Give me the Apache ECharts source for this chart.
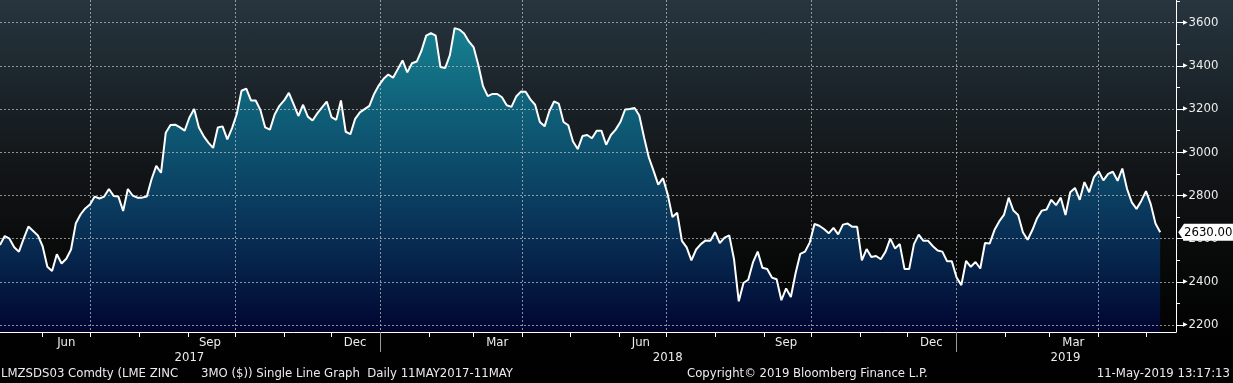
<!DOCTYPE html>
<html><head><meta charset="utf-8">
<script src="https://cdn.jsdelivr.net/npm/echarts@6/dist/echarts.min.js"></script>
<style>
html,body{margin:0;padding:0;background:#000;}
#c{width:1233px;height:383px;background:linear-gradient(180deg,#27353f 0px,#1b242a 90px,#121517 170px,#080909 260px,#020202 332px,#000 383px);}
</style>
</head><body><div id="c"></div>
<script>
const dates = [
'2017-05-05','2017-05-08','2017-05-11','2017-05-14','2017-05-17','2017-05-20','2017-05-23','2017-05-26','2017-05-29',
'2017-06-01','2017-06-04','2017-06-07','2017-06-10','2017-06-13','2017-06-16','2017-06-19','2017-06-22','2017-06-25','2017-06-28',
'2017-07-01','2017-07-04','2017-07-07','2017-07-10','2017-07-13','2017-07-16','2017-07-19','2017-07-22','2017-07-25','2017-07-28','2017-07-31',
'2017-08-03','2017-08-06','2017-08-09','2017-08-12','2017-08-15','2017-08-18','2017-08-21','2017-08-24','2017-08-27','2017-08-30',
'2017-09-02','2017-09-05','2017-09-08','2017-09-11','2017-09-14','2017-09-17','2017-09-20','2017-09-23','2017-09-26','2017-09-29',
'2017-10-02','2017-10-05','2017-10-08','2017-10-11','2017-10-14','2017-10-17','2017-10-20','2017-10-23','2017-10-26','2017-10-29',
'2017-11-01','2017-11-04','2017-11-07','2017-11-10','2017-11-13','2017-11-16','2017-11-19','2017-11-22','2017-11-25','2017-11-28',
'2017-12-01','2017-12-04','2017-12-07','2017-12-10','2017-12-13','2017-12-16','2017-12-19','2017-12-22','2017-12-25','2017-12-28','2017-12-31',
'2018-01-03','2018-01-06','2018-01-09','2018-01-12','2018-01-15','2018-01-18','2018-01-21','2018-01-24','2018-01-27','2018-01-30',
'2018-02-02','2018-02-05','2018-02-08','2018-02-11','2018-02-14','2018-02-17','2018-02-20','2018-02-23','2018-02-26',
'2018-03-01','2018-03-04','2018-03-07','2018-03-10','2018-03-13','2018-03-16','2018-03-19','2018-03-22','2018-03-25','2018-03-28','2018-03-31',
'2018-04-03','2018-04-06','2018-04-09','2018-04-12','2018-04-15','2018-04-18','2018-04-21','2018-04-24','2018-04-27','2018-04-30',
'2018-05-03','2018-05-06','2018-05-09','2018-05-12','2018-05-15','2018-05-18','2018-05-21','2018-05-24','2018-05-27','2018-05-30',
'2018-06-02','2018-06-05','2018-06-08','2018-06-11','2018-06-14','2018-06-17','2018-06-20','2018-06-23','2018-06-26','2018-06-29',
'2018-07-02','2018-07-05','2018-07-08','2018-07-11','2018-07-14','2018-07-17','2018-07-20','2018-07-23','2018-07-26','2018-07-29',
'2018-08-01','2018-08-04','2018-08-07','2018-08-10','2018-08-13','2018-08-16','2018-08-19','2018-08-22','2018-08-25','2018-08-28','2018-08-31',
'2018-09-03','2018-09-06','2018-09-09','2018-09-12','2018-09-15','2018-09-18','2018-09-21','2018-09-24','2018-09-27','2018-09-30',
'2018-10-03','2018-10-06','2018-10-09','2018-10-12','2018-10-15','2018-10-18','2018-10-21','2018-10-24','2018-10-27','2018-10-30',
'2018-11-02','2018-11-05','2018-11-08','2018-11-11','2018-11-14','2018-11-17','2018-11-20','2018-11-23','2018-11-26','2018-11-29',
'2018-12-02','2018-12-05','2018-12-08','2018-12-11','2018-12-14','2018-12-17','2018-12-20','2018-12-23','2018-12-26','2018-12-29',
'2019-01-01','2019-01-04','2019-01-07','2019-01-10','2019-01-13','2019-01-16','2019-01-19','2019-01-22','2019-01-25','2019-01-28','2019-01-31',
'2019-02-03','2019-02-06','2019-02-09','2019-02-12','2019-02-15','2019-02-18','2019-02-21','2019-02-24','2019-02-27',
'2019-03-02','2019-03-05','2019-03-08','2019-03-11','2019-03-14','2019-03-17','2019-03-20','2019-03-23','2019-03-26','2019-03-29',
'2019-04-01','2019-04-04','2019-04-07','2019-04-10','2019-04-13','2019-04-16','2019-04-19','2019-04-22','2019-04-25','2019-04-28',
'2019-05-01','2019-05-04','2019-05-07','2019-05-10'
];
const zinc = [
2571,2612,2600,2560,2540,2600,2656,2636,2615,
2565,2470,2450,2528,2485,2507,2550,2670,2712,2740,
2758,2795,2786,2795,2830,2798,2795,2728,2830,2800,2790,
2790,2795,2875,2937,2905,3090,3126,3128,3115,3100,
3161,3200,3115,3075,3045,3020,3115,3120,3060,3112,
3177,3285,3295,3240,3240,3195,3115,3105,3175,3215,
3240,3275,3223,3168,3220,3165,3147,3180,3208,3235,
3163,3150,3240,3095,3084,3155,3185,3200,3215,3270,3310,
3340,3360,3345,3385,3425,3370,3412,3420,3470,3540,
3552,3540,3395,3390,3450,3575,3568,3550,3513,
3487,3405,3306,3260,3270,3270,3255,3218,3210,3258,3281,
3280,3245,3220,3140,3120,3190,3235,3225,3140,3125,
3050,3015,3075,3080,3065,3100,3100,3035,3080,3105,
3140,3198,3200,3205,3170,3070,2977,2915,2850,2880,
2805,2700,2720,2590,2560,2500,2550,2575,2592,2590,
2630,2580,2605,2615,2505,2310,2395,2410,2490,2540,2465,
2460,2420,2412,2315,2370,2330,2440,2530,2540,2583,
2668,2660,2645,2625,2650,2620,2665,2670,2655,2655,
2500,2552,2515,2520,2505,2540,2600,2555,2575,2460,
2460,2575,2619,2590,2590,2565,2545,2540,2495,2495,
2420,2385,2497,2470,2492,2462,2580,2578,2640,2680,2710,
2790,2730,2710,2630,2595,2640,2695,2730,2735,
2780,2755,2790,2710,2815,2835,2780,2862,2815,2885,
2912,2870,2900,2910,2868,2925,2830,2768,2738,2775,
2820,2760,2670,2630
];
const yTickValues = [2200,2400,2600,2800,3000,3200,3400,3600];
const yMinorTickValues = [2300,2500,2700,2900,3100,3300,3500,3700];
const monthTickDates = ['2017-06-01','2017-07-01','2017-08-01','2017-09-01','2017-10-01','2017-11-01','2017-12-01',
'2018-01-01','2018-02-01','2018-03-01','2018-04-01','2018-05-01','2018-06-01','2018-07-01','2018-08-01','2018-09-01','2018-10-01','2018-11-01','2018-12-01',
'2019-01-01','2019-02-01','2019-03-01','2019-04-01','2019-05-01'];
const monthLabelDates = ['2017-06-16','2017-09-15','2017-12-16','2018-03-16','2018-06-15','2018-09-15','2018-12-16','2019-03-16'];
const monthLabels = ['Jun','Sep','Dec','Mar','Jun','Sep','Dec','Mar'];
const yearLabelDates = ['2017-09-02','2018-07-02','2019-03-11'];
const yearLabels = ['2017','2018','2019'];
const yearBreakDates = ['2018-01-01','2019-01-01'];
const quarterDates = ['2017-07-01','2017-10-01','2018-01-01','2018-04-01','2018-07-01','2018-10-01','2019-01-01','2019-04-01'];
const xMinDate = '2017-05-05', xMaxDate = '2019-05-20';
const yMin = 2168, yMax = 3705;
const footerLeft = 'LMZSDS03 Comdty (LME ZINC';
const footerMid = '3MO ($)) Single Line Graph  Daily 11MAY2017-11MAY';
const footerCopy = 'Copyright\u00A9 2019 Bloomberg Finance L.P.';
const footerTime = '11-May-2019 13:17:13';

const FONT = "'DejaVu Sans Condensed','Liberation Sans Narrow','DejaVu Sans',sans-serif";
const GRIDC = 'rgba(185,185,185,0.75)';
const TXT = '#ececec';
const ts = d => Date.parse(d + 'T00:00:00Z');
function nearest(v, ds, ls){
  let bi = 0, bd = Infinity;
  ds.forEach((d,i)=>{ const df = Math.abs(ts(d)-v); if(df<bd){bd=df;bi=i;} });
  return ls[bi];
}
const pairs = dates.map((d,i)=>[ts(d), zinc[i]]);
const lastX = ts(dates[dates.length-1]), lastVal = zinc[zinc.length-1];
const xMin = ts(xMinDate), xMax = ts(xMaxDate);
const footStyle = {color:TXT,fontSize:13,fontWeight:'normal',fontFamily:FONT};

const chart = echarts.init(document.getElementById('c'), null, {renderer:'canvas'});
chart.setOption({
  backgroundColor:'transparent',
  animation:false,
  textStyle:{fontFamily:FONT},
  grid:{left:0,right:57,top:0,bottom:51,containLabel:false},
  title:[
    {text:footerLeft,left:1,top:367,padding:0,textStyle:footStyle},
    {text:footerMid,left:201,top:367,padding:0,textStyle:footStyle},
    {text:footerCopy,left:687,top:367,padding:0,textStyle:footStyle},
    {text:footerTime,right:3,top:367,padding:0,textStyle:footStyle}
  ],
  xAxis:[
    {type:'value',min:xMin,max:xMax,position:'bottom',z:3,
     axisLine:{show:true,onZero:false,lineStyle:{color:'#ffffff',width:1}},
     axisTick:{show:true,customValues:monthTickDates.map(ts),length:5,lineStyle:{color:'#ffffff'}},
     axisLabel:{show:true,customValues:monthLabelDates.map(ts),margin:4,color:TXT,fontSize:13,fontFamily:FONT,
       formatter:v=>nearest(v,monthLabelDates,monthLabels)},
     splitLine:{show:false},minorTick:{show:false}},
    {type:'value',min:xMin,max:xMax,position:'bottom',z:3,
     axisLine:{show:false,onZero:false},
     axisTick:{show:true,customValues:yearBreakDates.map(ts),length:20,lineStyle:{color:'#9a9a9a'}},
     axisLabel:{show:true,customValues:yearLabelDates.map(ts),margin:19,color:TXT,fontSize:13,fontFamily:FONT,
       formatter:v=>nearest(v,yearLabelDates,yearLabels)},
     splitLine:{show:false}},
    {type:'value',min:xMin,max:xMax,position:'top',z:3,
     axisLine:{show:false,onZero:false},
     axisTick:{show:false,customValues:quarterDates.map(ts)},
     axisLabel:{show:false},
     splitLine:{show:true,lineStyle:{color:GRIDC,type:[2,2],width:1}}}
  ],
  yAxis:[
    {type:'value',position:'right',min:yMin,max:yMax,z:3,
     axisLine:{show:true,onZero:false,lineStyle:{color:'#ffffff',width:1}},
     axisTick:{show:true,customValues:yTickValues,length:7,lineStyle:{color:'#ffffff'}},
     axisLabel:{show:true,customValues:yTickValues,margin:7,color:TXT,fontSize:13,fontFamily:FONT,
       formatter:v=>'{t|\u25B6}'+String(v),
       rich:{t:{fontSize:6,color:'#ffffff',padding:[0,1,1,0],fontFamily:'DejaVu Sans'}}},
     splitLine:{show:true,lineStyle:{color:GRIDC,type:[2,2],width:1}}},
    {type:'value',position:'right',min:yMin,max:yMax,z:3,
     axisLine:{show:false,onZero:false},
     axisTick:{show:true,customValues:yMinorTickValues,length:4,lineStyle:{color:'#ffffff'}},
     axisLabel:{show:false},
     splitLine:{show:false}}
  ],
  series:[
    {type:'line',name:'fill',data:pairs,xAxisIndex:0,yAxisIndex:0,symbol:'none',showSymbol:false,silent:true,z:1,
     lineStyle:{width:0},
     areaStyle:{origin:'start',opacity:1,color:{type:'linear',x:0,y:0,x2:0,y2:332,global:true,colorStops:[
       {offset:0,color:'#1a8c9c'},{offset:0.1,color:'#167e8f'},{offset:0.33,color:'#0f6079'},
       {offset:0.59,color:'#0b3f62'},{offset:0.72,color:'#082d53'},{offset:0.86,color:'#041a42'},{offset:1,color:'#010530'}]}}},
    {type:'line',name:'LMZSDS03 Comdty',data:pairs,xAxisIndex:0,yAxisIndex:0,symbol:'none',showSymbol:false,z:5,
     lineStyle:{color:'#ffffff',width:2},
     markPoint:{silent:true,symbol:'path://M0,8L6,0L58,0L58,16L6,16Z',symbolSize:[56,17],symbolKeepAspect:false,
       symbolOffset:[46,0],itemStyle:{color:'#ffffff'},
       label:{show:true,position:'inside',color:'#000000',fontSize:13,fontFamily:FONT,offset:[2,0],
         formatter:p=>Number(p.value).toFixed(2)},
       data:[{coord:[lastX,lastVal],value:lastVal}]}}
  ]
});
</script>
</body></html>
